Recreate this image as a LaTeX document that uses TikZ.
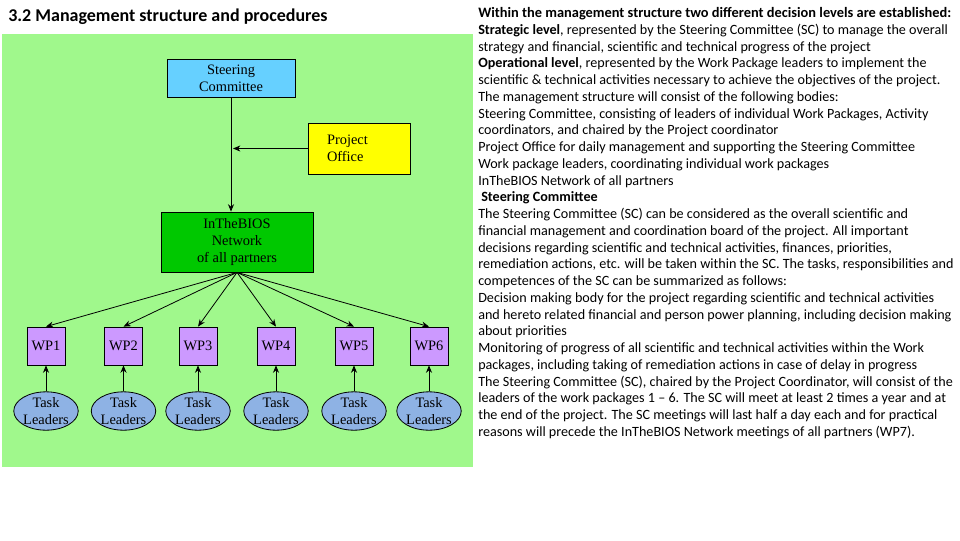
\documentclass[tikz,border=0pt]{standalone}
\usepackage{fontspec}
\setmainfont{Carlito}
\newfontfamily\diagfont{Liberation Serif}
\usetikzlibrary{arrows.meta,shapes.geometric}
\definecolor{bggreen}{RGB}{160,248,140}
\definecolor{scblue}{RGB}{102,208,255}
\definecolor{poyellow}{RGB}{255,255,0}
\definecolor{itbgreen}{RGB}{0,200,0}
\definecolor{wpviolet}{RGB}{204,153,255}
\definecolor{tlblue}{RGB}{142,178,228}
\tikzset{
  box/.style={draw=black, line width=0.6pt, rectangle, inner sep=0pt, align=center,
    font=\diagfont\fontsize{10.8}{12.75}\selectfont},
  wpbox/.style={box, fill=wpviolet, minimum width=28.5pt, minimum height=28.5pt},
  tlell/.style={draw=black, line width=0.6pt, ellipse, fill=tlblue, inner sep=0pt,
    minimum width=47.25pt, minimum height=27pt, align=center,
    font=\diagfont\fontsize{10.8}{12.75}\selectfont},
  conn/.style={line width=0.6pt, -{Stealth[length=5.5pt,width=4.5pt]}},
  bodyline/.style={anchor=base west, inner sep=0pt, font=\fontsize{10.6}{12.5}\selectfont},
}
\begin{document}
\begin{tikzpicture}[x=0.75pt,y=-0.75pt]
\useasboundingbox[fill=white] (0,0) rectangle (960,540);
% title
\node[anchor=base west, inner sep=0pt, font=\bfseries\fontsize{13.5}{16}\selectfont] (title) at (8,21) {3.2 Management structure and procedures};
% background panel
\node[fill=bggreen, inner sep=0pt, minimum width=353.25pt, minimum height=324.75pt] (panel) at (237.5,250.5) {};
% nodes
\node[box, fill=scblue, minimum width=96pt, minimum height=28.5pt] (sc) at (231,78) {Steering\\Committee};
\node[box, fill=poyellow, minimum width=76.5pt, minimum height=38.25pt, text width=48pt, align=left] (po) at (359,148.5) {Project\\Office};
\node[box, fill=itbgreen, minimum width=114pt, minimum height=45pt, font=\diagfont\fontsize{10.8}{13.1}\selectfont] (itb) at (237,242) {InTheBIOS\\Network\\of all partners};
\foreach \i/\x in {1/46,2/123.5,3/198,4/276,5/354,6/429}{
  \node[wpbox] (wp\i) at (\x,346) {WP\i};
  \node[tlell] (tl\i) at (\x,411) {Task\\Leaders};
  \draw[conn] (itb.south) -- (wp\i.north);
  \draw[conn] (tl\i.north) -- (wp\i.south);
}
\draw[conn] (sc.south) -- (sc.south |- itb.north);
\draw[conn] (po.west) -- ([xshift=1.5pt]sc.south |- po.west);
% body text
\node[bodyline, font=\fontsize{10.8}{12.5}\selectfont] (t1) at (478,17.5) {\textbf{Within the management structure two different decision levels are established:}};
\node[bodyline] (t2) at (478,34.26) {\textbf{Strategic level}, represented by the Steering Committee (SC) to manage the overall};
\node[bodyline] (t3) at (478,51.02) {strategy and financial, scientific and technical progress of the project};
\node[bodyline] (t4) at (478,67.78) {\textbf{Operational level}, represented by the Work Package leaders to implement the};
\node[bodyline] (t5) at (478,84.54) {scientific \& technical activities necessary to achieve the objectives of the project.};
\node[bodyline] (t6) at (478,101.3) {The management structure will consist of the following bodies:};
\node[bodyline] (t7) at (478,118.06) {Steering Committee, consisting of leaders of individual Work Packages, Activity};
\node[bodyline] (t8) at (478,134.82) {coordinators, and chaired by the Project coordinator};
\node[bodyline] (t9) at (478,151.58) {Project Office for daily management and supporting the Steering Committee};
\node[bodyline] (t10) at (478,168.34) {Work package leaders, coordinating individual work packages};
\node[bodyline] (t11) at (478,185.1) {InTheBIOS Network of all partners};
\node[bodyline] (t12) at (481,201.86) {\textbf{Steering Committee}};
\node[bodyline] (t13) at (478,218.62) {The Steering Committee (SC) can be considered as the overall scientific and};
\node[bodyline] (t14) at (478,235.38) {financial management and coordination board of the project. All important};
\node[bodyline] (t15) at (478,252.14) {decisions regarding scientific and technical activities, finances, priorities,};
\node[bodyline] (t16) at (478,268.9) {remediation actions, etc. will be taken within the SC. The tasks, responsibilities and};
\node[bodyline] (t17) at (478,285.66) {competences of the SC can be summarized as follows:};
\node[bodyline] (t18) at (478,302.42) {Decision making body for the project regarding scientific and technical activities};
\node[bodyline] (t19) at (478,319.18) {and hereto related financial and person power planning, including decision making};
\node[bodyline] (t20) at (478,335.94) {about priorities};
\node[bodyline] (t21) at (478,352.7) {Monitoring of progress of all scientific and technical activities within the Work};
\node[bodyline] (t22) at (478,369.46) {packages, including taking of remediation actions in case of delay in progress};
\node[bodyline] (t23) at (478,386.22) {The Steering Committee (SC), chaired by the Project Coordinator, will consist of the};
\node[bodyline] (t24) at (478,402.98) {leaders of the work packages 1 – 6. The SC will meet at least 2 times a year and at};
\node[bodyline] (t25) at (478,419.74) {the end of the project. The SC meetings will last half a day each and for practical};
\node[bodyline] (t26) at (478,436.5) {reasons will precede the InTheBIOS Network meetings of all partners (WP7).};
\end{tikzpicture}
\end{document}
